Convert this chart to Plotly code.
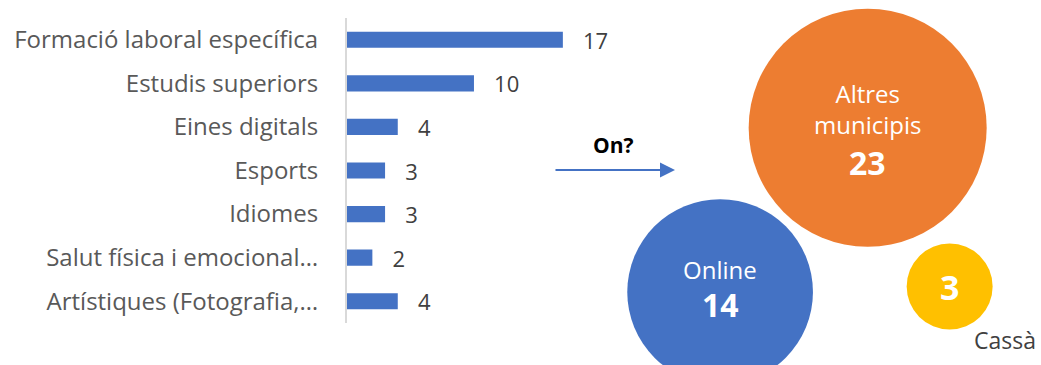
import plotly.graph_objects as go

# Left: horizontal bar chart
categories = [
    "Formació laboral específica",
    "Estudis superiors",
    "Eines digitals",
    "Esports",
    "Idiomes",
    "Salut física i emocional…",
    "Artístiques (Fotografia,…",
]
values = [17, 10, 4, 3, 3, 2, 4]

# Right: bubble chart "On?"
bubble_names = ["Altres<br>municipis", "Online", ""]
bubble_values = [23, 14, 3]
bubble_x = [6.3, 3.15, 8.05]
bubble_y = [6.5, 2.0, 2.15]
bubble_colors = ["#ED7D31", "#4472C4", "#FFC000"]
outside_label = "Cassà"

FONT = "Open Sans"

fig = go.Figure()

fig.add_trace(go.Bar(
    y=categories, x=values, orientation="h",
    marker=dict(color="#4472C4", line=dict(width=0)),
    text=values, texttemplate="\u00a0\u00a0\u00a0%{x}",
    textposition="outside", cliponaxis=False, constraintext="none",
    textfont=dict(family=FONT, size=22, color="#404040"),
    xaxis="x", yaxis="y", showlegend=False, hoverinfo="skip",
))

fig.add_trace(go.Scatter(
    x=bubble_x, y=bubble_y, mode="markers",
    marker=dict(size=bubble_values, sizemode="area", sizeref=0.000812,
                color=bubble_colors, opacity=1, line=dict(width=0)),
    xaxis="x2", yaxis="y2", showlegend=False, hoverinfo="skip",
))

annotations = []
num_sizes = [32, 32, 34]
name_shift = [19, 23, 0]
num_shift = [-35, -12, 0]
for name, v, x, y, fs, ns, vs in zip(bubble_names, bubble_values, bubble_x, bubble_y,
                                      num_sizes, name_shift, num_shift):
    if name:
        annotations.append(dict(
            x=x, y=y, xref="x2", yref="y2", text=name, showarrow=False,
            font=dict(family=FONT, size=24, color="white"), align="center",
            yshift=ns, xanchor="center", yanchor="middle",
        ))
    annotations.append(dict(
        x=x, y=y, xref="x2", yref="y2", text=f"<b>{v}</b>", showarrow=False,
        font=dict(family=FONT, size=fs, color="white"), align="center",
        yshift=vs, xanchor="center", yanchor="middle",
    ))

annotations.append(dict(
    x=0.9654, y=0.0685, xref="paper", yref="paper", text=outside_label,
    showarrow=False, font=dict(family=FONT, size=23, color="#404040"),
    xanchor="center", yanchor="middle",
))
annotations.append(dict(
    x=0.589, y=0.6027, xref="paper", yref="paper", text="<b>On?</b>",
    showarrow=False, font=dict(family=FONT, size=21, color="black"),
    xanchor="center", yanchor="middle",
))
annotations.append(dict(
    x=0.6484, y=0.534, xref="paper", yref="paper", text="",
    showarrow=True, ax=-121, ay=0, axref="pixel", ayref="pixel",
    arrowhead=2, arrowsize=1.5, arrowwidth=2, arrowcolor="#4472C4",
    standoff=0, startstandoff=0,
))

fig.update_layout(
    width=1041, height=365,
    margin=dict(l=0, r=0, t=0, b=0),
    paper_bgcolor="white", plot_bgcolor="rgba(0,0,0,0)",
    bargap=0.63,
    xaxis=dict(domain=[0.3333, 0.62], range=[0, 23.5], visible=False, fixedrange=True),
    yaxis=dict(domain=[0.115, 0.9507], autorange="reversed",
               showline=True, linecolor="#D9D9D9", linewidth=2,
               showgrid=False, zeroline=False,
               ticks="outside", ticklen=0, ticklabelstandoff=22,
               tickfont=dict(family=FONT, size=24, color="#595959")),
    xaxis2=dict(domain=[0.55, 1.0], range=[0, 10], visible=False, anchor="y2"),
    yaxis2=dict(domain=[0.0, 1.0], range=[0, 10], visible=False, anchor="x2"),
    annotations=annotations,
)

fig.write_html("out.html", config={"displayModeBar": False},
               post_script="document.body.style.margin='0';document.body.style.overflow='hidden';")
